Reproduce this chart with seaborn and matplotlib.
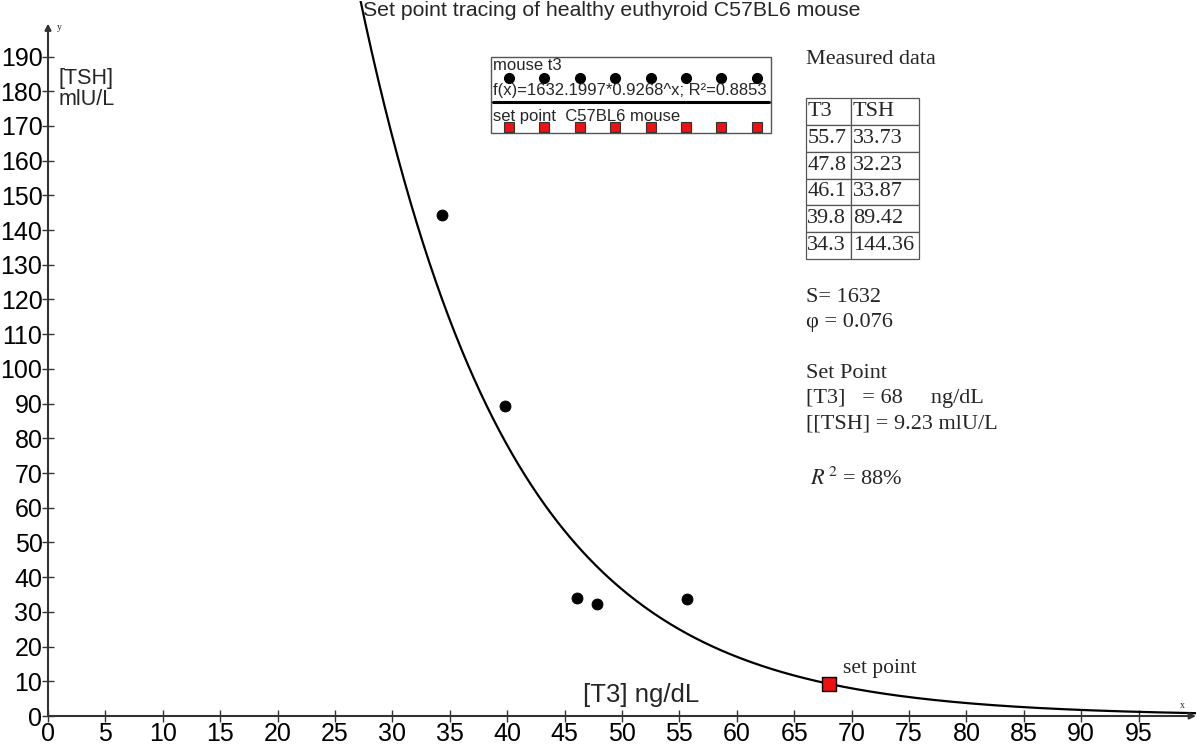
import numpy as np
import pandas as pd
import matplotlib
matplotlib.use("Agg")
import matplotlib.pyplot as plt
import seaborn as sns
from matplotlib.patches import Rectangle
from matplotlib.lines import Line2D

# ---- data ----
t3_values = [55.7, 47.8, 46.1, 39.8, 34.3]
tsh_values = [33.73, 32.23, 33.87, 89.42, 144.36]
set_point_t3 = [68]
set_point_tsh = [9.23]
fit_S = 1632.1997
fit_base = 0.9268
fit_r2 = 0.8853
x_ticks = list(range(0, 100, 5))
y_ticks = list(range(0, 200, 10))
title = "Set point tracing of healthy euthyroid C57BL6 mouse"

sns.set_theme(style="white")
plt.rcParams['font.family'] = ['Liberation Sans', 'DejaVu Sans']
SERIF = ['Liberation Serif', 'DejaVu Serif']

W, H = 1200, 745
fig = plt.figure(figsize=(W / 100, H / 100), dpi=100)
ax = fig.add_axes([48 / W, 29 / H, 1148 / W, 715 / H])
ax.set_xlim(0, 100)
ax.set_ylim(0, 206)

def fx(px):
    return px / W

def fy(py):
    return 1 - py / H

# fitted curve from stated coefficients
xs = np.linspace(26, 100, 400)
curve = pd.DataFrame({"x": xs, "y": fit_S * fit_base ** xs})
sns.lineplot(data=curve, x="x", y="y", ax=ax, color="black", linewidth=1.6)

df = pd.DataFrame({"T3": t3_values, "TSH": tsh_values})
sns.scatterplot(data=df, x="T3", y="TSH", ax=ax, color="black", s=62,
                edgecolor="black", zorder=5)
sp = pd.DataFrame({"T3": set_point_t3, "TSH": set_point_tsh})
sns.scatterplot(data=sp, x="T3", y="TSH", ax=ax, color="#ee1111", marker="s",
                s=100, edgecolor="black", linewidth=1.0, zorder=6)

for s in ax.spines.values():
    s.set_visible(False)
axc = "#333333"
ax.annotate('', xy=(100, 0), xytext=(0, 0),
            arrowprops=dict(arrowstyle='-|>', lw=1.5, color=axc, mutation_scale=9,
                            shrinkA=0, shrinkB=0), annotation_clip=False)
ax.annotate('', xy=(0, 199.5), xytext=(0, 0),
            arrowprops=dict(arrowstyle='-|>', lw=1.5, color=axc, mutation_scale=9,
                            shrinkA=0, shrinkB=0), annotation_clip=False)
ax.set_xticks(x_ticks)
ax.set_yticks(y_ticks)
ax.set_xticklabels([str(v) for v in x_ticks])
ax.set_yticklabels([str(v) for v in y_ticks])
ax.tick_params(axis='both', direction='inout', length=8, width=1, color=axc,
               labelsize=18, labelcolor='black', pad=0)
ax.tick_params(axis='x', bottom=True, pad=0)
ax.tick_params(axis='y', left=True, pad=0)
ax.set_xlabel("")
ax.set_ylabel("")
ax.grid(False)

fig.text(fx(1182), fy(706), "x", fontsize=7, family=SERIF, ha='center', va='center')
fig.text(fx(59), fy(28), "y", fontsize=7, family=SERIF, ha='center', va='center')

fig.text(fx(612), fy(11), title, fontsize=15.3, ha='center', va='center')
fig.text(fx(59), fy(89), "[TSH]\nmlU/L", fontsize=15.5, ha='left', va='center',
         linespacing=1.05)
fig.text(fx(641), fy(695), "[T3] ng/dL", fontsize=18.5, ha='center', va='center')
fig.text(fx(843), fy(668), "set point", fontsize=15.5, family=SERIF, ha='left',
         va='center')

# legend box
fig.patches.append(Rectangle((fx(491), fy(133)), (771 - 491) / W, (133 - 57) / H,
                             transform=fig.transFigure, fill=False,
                             edgecolor='#555555', linewidth=1.0))
fig.text(fx(493), fy(66), "mouse t3", fontsize=12, ha='left', va='center')
fig.text(fx(493), fy(90), f"f(x)={fit_S}*{fit_base}^x; R²={fit_r2}", fontsize=12,
         ha='left', va='center')
fig.text(fx(493), fy(116), "set point  C57BL6 mouse", fontsize=12, ha='left',
         va='center')
fig.lines.append(Line2D([fx(493), fx(769)], [fy(102), fy(102)],
                        transform=fig.transFigure, color='black', linewidth=2.2))
leg_x = [fx(509 + 35.4 * i) for i in range(8)]
fig.lines.append(Line2D(leg_x, [fy(78)] * 8, transform=fig.transFigure,
                        linestyle='none', marker='o', markersize=7,
                        color='black'))
fig.lines.append(Line2D(leg_x, [fy(127)] * 8, transform=fig.transFigure,
                        linestyle='none', marker='s', markersize=6.5,
                        markerfacecolor='#ee1111', markeredgecolor='#333333',
                        markeredgewidth=0.8))

# right-side texts
FS = 16
fig.text(fx(806), fy(60), "Measured data", fontsize=FS, family=SERIF, ha='left',
         va='center')
rows = [["T3", "TSH"]] + [[f"{a}", f"{b}"] for a, b in zip(t3_values, tsh_values)]
tab = ax.table(cellText=rows, colWidths=[45 / 1148, 68 / 1148], cellLoc='left',
               bbox=[(806 - 48) / 1148, (716 - 259) / 715, 113 / 1148, 161 / 715])
tab.auto_set_font_size(False)
for (r, c), cell in tab.get_celld().items():
    cell.set_edgecolor('#555555')
    cell.set_linewidth(0.9)
    cell.PAD = 0.03
    cell.get_text().set_fontsize(FS)
    cell.get_text().set_family(SERIF)

fig.text(fx(806), fy(298), "S= 1632", fontsize=FS, family=SERIF, ha='left', va='center')
fig.text(fx(806), fy(323), "φ = 0.076", fontsize=FS, family=SERIF, ha='left', va='center')
fig.text(fx(806), fy(374), "Set Point", fontsize=FS, family=SERIF, ha='left', va='center')
fig.text(fx(806), fy(399), "[T3]   = 68     ng/dL", fontsize=FS, family=SERIF,
         ha='left', va='center')
fig.text(fx(806), fy(424), "[[TSH] = 9.23 mlU/L", fontsize=FS, family=SERIF,
         ha='left', va='center')
fig.text(fx(810), fy(479), r"$\mathit{R}^{\,2}$ = 88%", fontsize=FS, family=SERIF,
         ha='left', va='center', math_fontfamily='stix')

fig.savefig("out.png", dpi=100)
